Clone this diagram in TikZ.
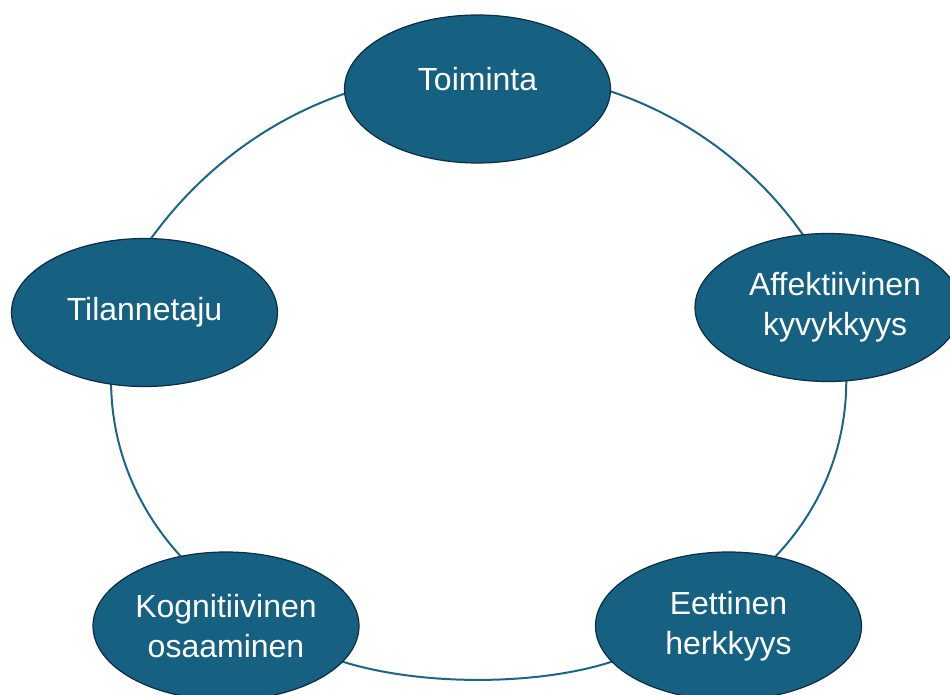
\documentclass[tikz,border=0pt]{standalone}
\usepackage{fontspec}
\setmainfont{Liberation Sans}
\usetikzlibrary{shapes.geometric,backgrounds}
\definecolor{nodefill}{HTML}{166082}
\definecolor{nodeline}{HTML}{0C2D42}
\definecolor{linkcol}{HTML}{1A6689}
\begin{document}
\begin{tikzpicture}[x=1pt,y=-1pt,
  item/.style={ellipse, draw=nodeline, line width=1.2pt, fill=nodefill,
    minimum width=266pt, minimum height=148pt, inner sep=0pt, outer sep=0pt,
    text=white, font=\fontsize{32}{40}\selectfont, align=center},
  link/.style={draw=linkcol, line width=2pt}]
\useasboundingbox (0,0) rectangle (950,695);
\node[item] (toim) at (477.5,89) {\raisebox{10pt}[\height][\depth]{Toiminta}};
\node[item] (tila) at (144.5,312.5) {Tilannetaju};
\node[item] (affe) at (828,307.5) {\hspace*{14pt}Affektiivinen\\\hspace*{14pt}kyvykkyys};
\node[item] (kogn) at (226,626) {Kognitiivinen\\osaaminen};
\node[item] (eett) at (728.5,626) {Eettinen\\herkkyys};
\begin{scope}[on background layer]
\draw[link] (toim.182) .. controls (267.6,120.2) and (200.4,170.4) .. (tila.85);
\draw[link] (toim.-1) .. controls (688.1,117.3) and (756,167.8) .. (affe.109);
\draw[link] (tila.245) .. controls (111.9,448.2) and (136.9,508.8) .. (kogn.123);
\draw[link] (affe.284) .. controls (846.3,446.3) and (821.5,508.4) .. (eett.56);
\draw[link] (kogn.343) .. controls (420,686) and (537,686) .. (eett.197);
\end{scope}
\end{tikzpicture}
\end{document}
